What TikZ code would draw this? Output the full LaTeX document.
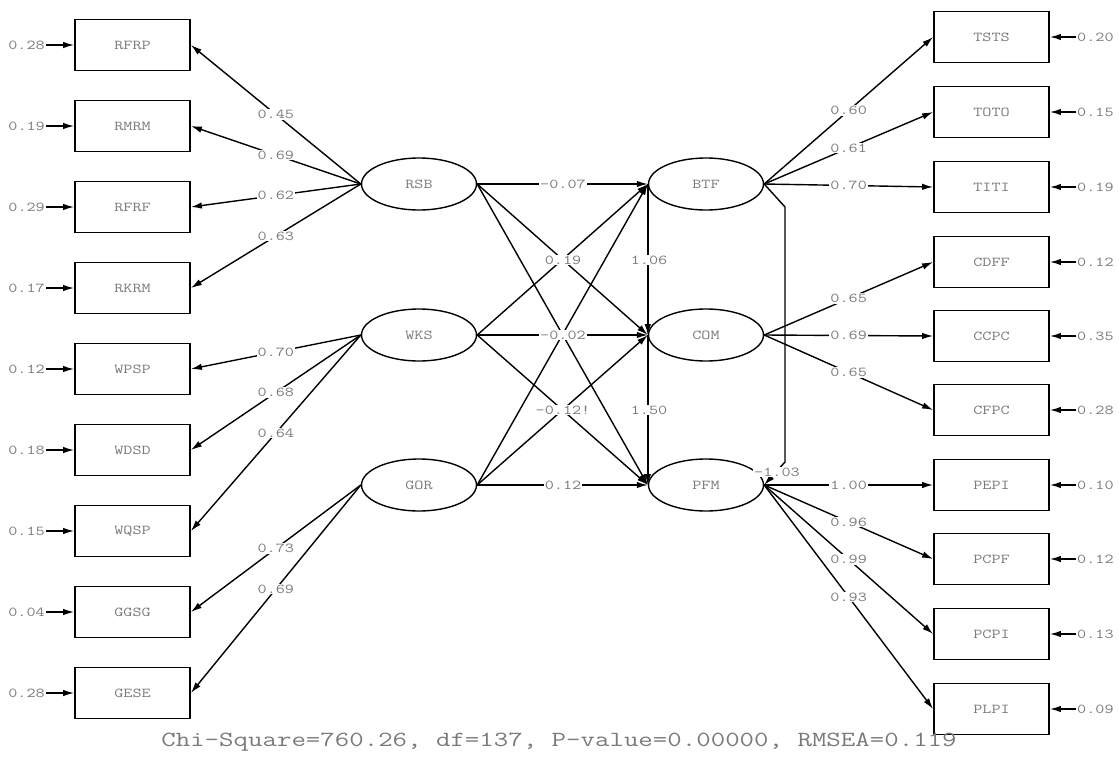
\documentclass[tikz,border=0pt]{standalone}
\usepackage{fontspec}
\newfontfamily\lis[FakeStretch=1.3]{Latin Modern Mono}
\usetikzlibrary{arrows.meta,shapes.geometric}
\definecolor{txt}{HTML}{7A7A7A}
\begin{document}
\begin{tikzpicture}[x=1pt,y=-1pt,
  lisfont/.style={font=\lis\fontsize{13.6}{14}\selectfont, text=txt},
  obs/.style={draw, line width=1.8pt, minimum width=115pt, minimum height=51pt, inner sep=0pt, lisfont},
  lat/.style={draw, ellipse, line width=1.4pt, minimum width=115pt, minimum height=52pt, inner sep=0pt, lisfont},
  lbl/.style={fill=white, inner sep=1pt, lisfont},
  errl/.style={inner sep=1pt, lisfont},
  arr/.style={line width=1.4pt, -{Latex[length=11pt,width=6.5pt]}},
  plain/.style={line width=1.4pt}]
\useasboundingbox (0,0) rectangle (1119,766);
% left observed
\foreach \n/\y/\e in {RFRP/45/0.28, RMRM/126/0.19, RFRF/207/0.29, RKRM/288/0.17, WPSP/369/0.12, WDSD/450/0.18, WQSP/531/0.15, GGSG/612/0.04, GESE/693/0.28}{
  \node[obs] (\n) at (132.5,\y) {\n};
  \node[errl, anchor=east] (e\n) at (46,\y) {\e};
  \draw[arr] (e\n.east) -- (\n.west);
}
% right observed
\foreach \n/\y/\e in {TSTS/37/0.20, TOTO/112/0.15, TITI/187/0.19, CDFF/262/0.12, CCPC/336/0.35, CFPC/410/0.28, PEPI/485/0.10, PCPF/559/0.12, PCPI/634/0.13, PLPI/709/0.09}{
  \node[obs] (\n) at (991.5,\y) {\n};
  \node[errl, anchor=west] (e\n) at (1076,\y) {\e};
  \draw[arr] (e\n.west) -- (\n.east);
}
% latent
\node[lat] (RSB) at (419,184) {RSB};
\node[lat] (WKS) at (419,335) {WKS};
\node[lat] (GOR) at (419,485) {GOR};
\node[lat] (BTF) at (706,184) {BTF};
\node[lat] (COM) at (706,335) {COM};
\node[lat] (PFM) at (706,485) {PFM};
% loadings left
\foreach \l/\o/\v in {RSB/RFRP/0.45, RSB/RMRM/0.69, RSB/RFRF/0.62, RSB/RKRM/0.63, WKS/WPSP/0.70, WKS/WDSD/0.68, WKS/WQSP/0.64, GOR/GGSG/0.73, GOR/GESE/0.69}{
  \draw[arr] (\l.west) -- node[lbl]{\v} (\o.east);
}
% loadings right
\foreach \l/\o/\v in {BTF/TSTS/0.60, BTF/TOTO/0.61, BTF/TITI/0.70, COM/CDFF/0.65, COM/CCPC/0.69, COM/CFPC/0.65, PFM/PEPI/1.00, PFM/PCPF/0.96, PFM/PCPI/0.99, PFM/PLPI/0.93}{
  \draw[arr] (\l.east) -- node[lbl]{\v} (\o.west);
}
% structural
\foreach \a in {RSB,WKS,GOR}{
  \foreach \b in {BTF,COM,PFM}{
    \draw[arr] (\a.east) -- (\b.west);
  }
}
\draw[arr] (BTF.west) -- (COM.west);
\draw[arr] (COM.west) -- (PFM.west);
\coordinate (k1) at (785,207);
\coordinate (k2) at (785,462);
\draw[arr] (BTF.east) -- (k1) -- (k2) -- (PFM.east);
% structural labels
\node[lbl] (s1) at (563,184) {-0.07};
\node[lbl] (s2) at (563,260) {0.19};
\node[lbl] (s3) at (563,335) {-0.02};
\node[lbl] (s4) at (563,410) {-0.12!};
\node[lbl] (s5) at (563,485) {0.12};
\node[lbl] (s6) at (649,260) {1.06};
\node[lbl] (s7) at (649,410) {1.50};
\node[lbl] (s8) at (777,472) {-1.03};
% fit
\node[lisfont, font=\lis\fontsize{21.6}{22}\selectfont] (fit) at (559,742) {Chi-Square=760.26, df=137, P-value=0.00000, RMSEA=0.119};
\end{tikzpicture}
\end{document}
